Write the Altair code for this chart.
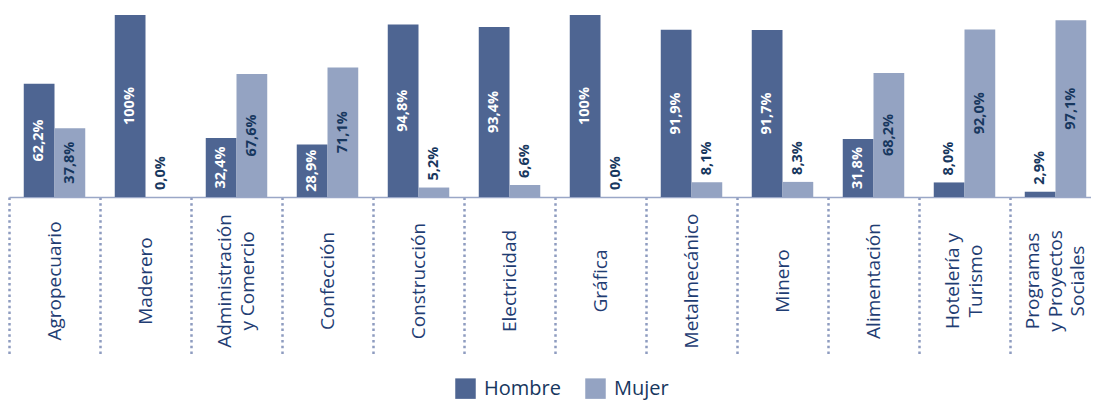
import altair as alt
import pandas as pd

categorias = ["Agropecuario", "Maderero", "Administración\ny Comercio", "Confección",
              "Construcción", "Electricidad", "Gráfica", "Metalmecánico", "Minero",
              "Alimentación", "Hotelería y\nTurismo", "Programas\ny Proyectos\nSociales"]
hombre = [62.2, 100.0, 32.4, 28.9, 94.8, 93.4, 100.0, 91.9, 91.7, 31.8, 8.0, 2.9]
mujer = [37.8, 0.0, 67.6, 71.1, 5.2, 6.6, 0.0, 8.1, 8.3, 68.2, 92.0, 97.1]
series = ["Hombre", "Mujer"]

rows = []
for i, c in enumerate(categorias):
    for s, vals in zip(series, [hombre, mujer]):
        v = vals[i]
        lab = ("100%" if v == 100 else f"{v:.1f}".replace(".", ",") + "%")
        rows.append({"cat": c, "sexo": s, "valor": v, "mitad": v / 2, "etiqueta": lab})
df = pd.DataFrame(rows)
cats_df = pd.DataFrame({"cat": categorias,
                        "nl": [c.count("\n") + 1 for c in categorias]})

NAVY = "#17375e"
CAT_COLOR = "#1f3d73"
C_H = "#4e6592"
C_M = "#94a3c2"
W = 1083
H = 182
FONT = "Open Sans"
LH = 22.5

xscale = alt.Scale(domain=categorias, paddingInner=0, paddingOuter=0, range=[1, 1093])
x_enc = alt.X("cat:N", sort=categorias, scale=xscale,
              axis=alt.Axis(title=None, labels=False, bandPosition=0,
                            ticks=True, tickSize=158, tickWidth=2.5,
                            tickColor="#8e9cc0", tickDash=[2.5, 3.2],
                            domainColor="#9aa7c7", domainWidth=1.5))
xoff = alt.XOffset("sexo:N", sort=series,
                   scale=alt.Scale(paddingInner=0, paddingOuter=0.48))
yscale = alt.Scale(domain=[0, 100], nice=False)

bars = alt.Chart(df).mark_bar().encode(
    x=x_enc,
    xOffset=xoff,
    y=alt.Y("valor:Q", scale=yscale, axis=None),
    color=alt.Color("sexo:N", sort=series,
                    scale=alt.Scale(domain=series, range=[C_H, C_M]),
                    legend=alt.Legend(title=None, orient="none", legendX=447, legendY=363,
                                      direction="horizontal", symbolType="square",
                                      symbolSize=420, symbolStrokeWidth=0,
                                      labelFont=FONT, labelFontSize=20,
                                      labelColor=NAVY, labelOffset=8,
                                      columnPadding=24, padding=0)),
)

inside = alt.Chart(df).transform_filter("datum.valor >= 20").mark_text(
    angle=270, align="center", baseline="middle", font=FONT,
    fontSize=14.5, fontWeight="bold"
).encode(
    x=alt.X("cat:N", sort=categorias, scale=xscale),
    xOffset=xoff,
    y=alt.Y("mitad:Q", scale=yscale),
    text="etiqueta:N",
    color=alt.condition("datum.sexo == 'Hombre'", alt.value("white"), alt.value(NAVY)),
)

outside = alt.Chart(df).transform_filter("datum.valor < 20").mark_text(
    angle=270, align="left", baseline="middle", font=FONT,
    fontSize=14.5, fontWeight="bold", dx=7, color=NAVY
).encode(
    x=alt.X("cat:N", sort=categorias, scale=xscale),
    xOffset=xoff,
    y=alt.Y("valor:Q", scale=yscale),
    text="etiqueta:N",
)

cat_layers = []
for n in [1, 2, 3]:
    cat_layers.append(
        alt.Chart(cats_df).transform_filter(f"datum.nl == {n}").mark_text(
            angle=270, align="center", baseline="middle", font=FONT,
            fontSize=19, color=CAT_COLOR, lineBreak="\n", lineHeight=LH,
            dy=-(n - 1) * LH / 2
        ).encode(
            x=alt.X("cat:N", sort=categorias, scale=xscale),
            y=alt.value(H + 84),
            text="cat:N",
        )
    )

chart = alt.layer(bars, inside, outside, *cat_layers).properties(
    width=W, height=H,
    autosize=alt.AutoSizeParams(type="none"),
    padding={"left": 0, "top": 7, "right": 0, "bottom": 203},
).configure_view(stroke=None)

chart.save("out.html", embed_options={"renderer": "svg", "actions": False})
